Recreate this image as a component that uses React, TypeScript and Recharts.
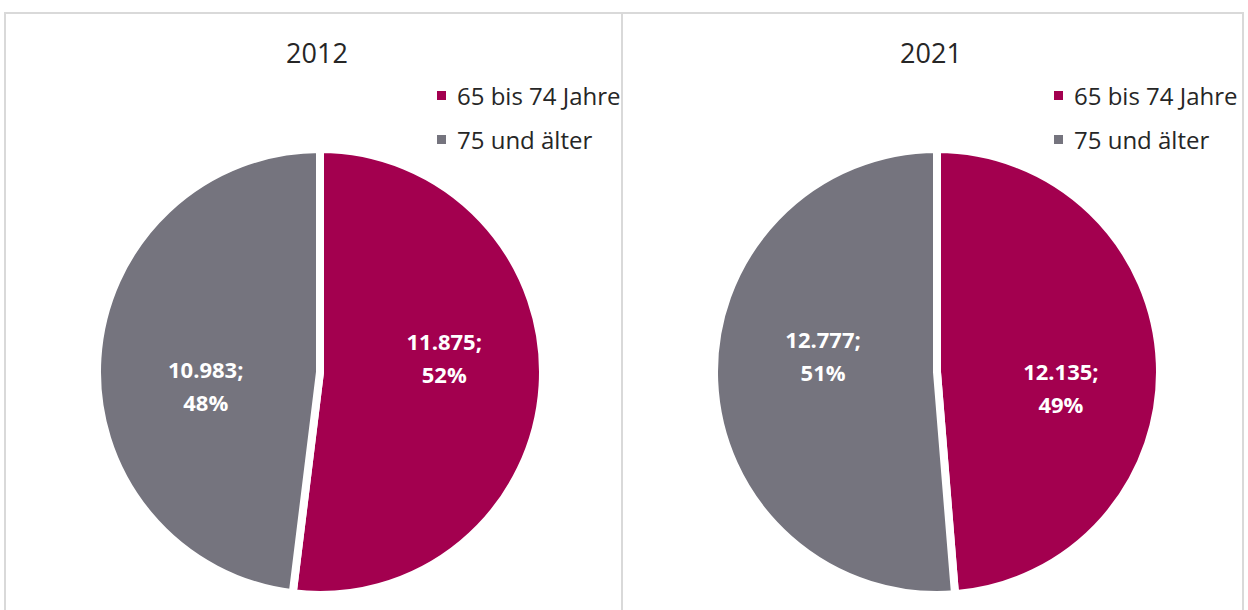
import React from "react";
import { PieChart, Pie, Cell, Legend } from "recharts";

const categories = ["65 bis 74 Jahre", "75 und älter"];
const years = ["2012", "2021"];
const values2012 = [11875, 10983];
const values2021 = [12135, 12777];

const colors = ["#a3004f", "#75747e"];
const BORDER = "#d9d9d9";

// Excel-ähnliches Tausendertrennzeichen
const fmt = (v: number) => String(v).replace(/\B(?=(\d{3})+(?!\d))/g, ".");

const RADIAN = Math.PI / 180;

const makeLabel = (angleShift: number) => (props: any) => {
  const { cx, cy, midAngle, percent, value } = props;
  const r = 120;
  const a = (midAngle + angleShift) * RADIAN;
  const x = cx + r * Math.cos(-a) + 5;
  const y = cy + r * Math.sin(-a) - 1;
  return (
    <g>
      <text
        x={x}
        y={y - 16}
        fill="#fff"
        textAnchor="middle"
        dominantBaseline="central"
        fontSize={22}
        fontWeight={700}
        fontFamily="'Open Sans', sans-serif"
      >
        {fmt(value)};
      </text>
      <text
        x={x}
        y={y + 17}
        fill="#fff"
        textAnchor="middle"
        dominantBaseline="central"
        fontSize={22}
        fontWeight={700}
        fontFamily="'Open Sans', sans-serif"
      >
        {Math.round(percent * 100)}%
      </text>
    </g>
  );
};

const LegendBox = (props: any) => {
  const { payload } = props;
  return (
    <div>
      {(payload || []).map((entry: any, i: number) => (
        <div
          key={i}
          style={{
            display: "flex",
            alignItems: "center",
            height: 44,
            whiteSpace: "nowrap",
          }}
        >
          <span
            style={{
              display: "inline-block",
              width: 9,
              height: 9,
              background: entry.color,
              marginRight: 11,
            }}
          />
          <span style={{ fontSize: 24, color: "#262626" }}>{entry.value}</span>
        </div>
      ))}
    </div>
  );
};

type PanelProps = {
  title: string;
  values: number[];
  left: number;
  width: number;
  titleX: number;
  angleShift: number;
};

const Panel = ({ title, values, left, width, titleX, angleShift }: PanelProps) => {
  const data = categories.map((name, i) => ({ name, value: values[i] }));
  return (
    <div style={{ position: "absolute", left, top: 13, width, height: 597 }}>
      <div
        style={{
          position: "absolute",
          left: titleX - 60,
          width: 120,
          top: 22,
          textAlign: "center",
          fontSize: 27,
          color: "#262626",
          lineHeight: "36px",
        }}
      >
        {title}
      </div>
      <PieChart width={width} height={597} margin={{ top: 0, right: 0, bottom: 0, left: 0 }}>
        <Pie
          data={data}
          dataKey="value"
          nameKey="name"
          cx={315}
          cy={359}
          outerRadius={223}
          startAngle={90}
          endAngle={-270}
          stroke="#fff"
          strokeWidth={8}
          labelLine={false}
          label={makeLabel(angleShift)}
          isAnimationActive={false}
        >
          {data.map((d, i) => (
            <Cell key={d.name} fill={colors[i]} />
          ))}
        </Pie>
        <Legend
          layout="vertical"
          align="right"
          verticalAlign="top"
          content={<LegendBox />}
          wrapperStyle={{ left: 432, top: 60, width: 190 }}
        />
      </PieChart>
    </div>
  );
};

export default function App() {
  return (
    <div
      style={{
        position: "absolute",
        left: 0,
        top: 0,
        width: 1248,
        height: 610,
        overflow: "hidden",
        background: "#fff",
        fontFamily: "'Open Sans', sans-serif",
      }}
    >
      <div style={{ position: "absolute", left: 4, top: 12, width: 1240, height: 2, background: BORDER }} />
      <div style={{ position: "absolute", left: 4, top: 12, width: 2, height: 600, background: BORDER }} />
      <div style={{ position: "absolute", left: 621, top: 12, width: 2, height: 600, background: BORDER }} />
      <div style={{ position: "absolute", left: 1242, top: 12, width: 2, height: 600, background: BORDER }} />
      <Panel title={years[0]} values={values2012} left={5} width={617} titleX={312} angleShift={10} />
      <Panel title={years[1]} values={values2021} left={622} width={620} titleX={309} angleShift={-10} />
    </div>
  );
}
